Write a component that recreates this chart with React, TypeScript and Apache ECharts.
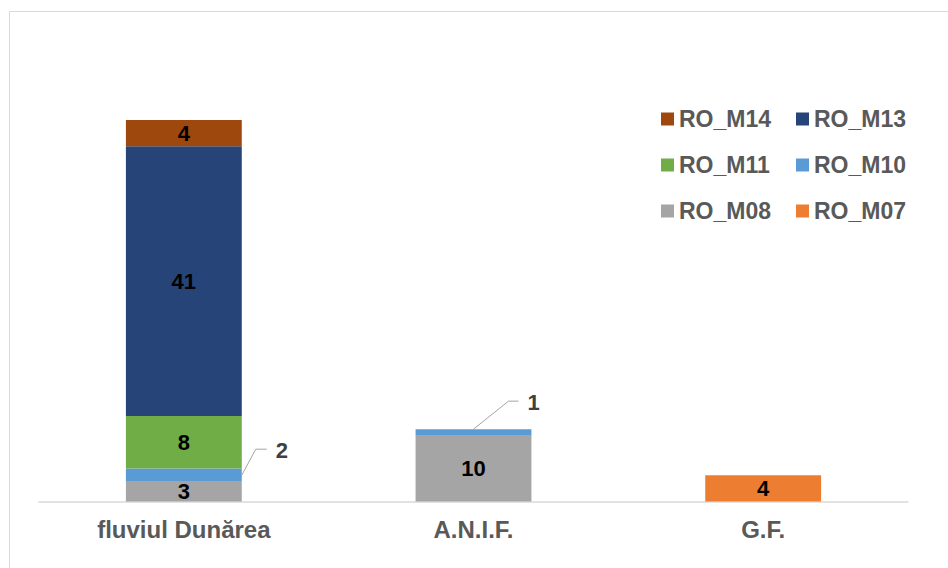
import React, { useEffect, useRef } from "react";
import * as echarts from "echarts";

const categories = ["fluviul Dunărea", "A.N.I.F.", "G.F."];
const RO_M07 = [null, null, 4];
const RO_M08 = [3, 10, null];
const RO_M10 = [2, 1, null];
const RO_M11 = [8, null, null];
const RO_M13 = [41, null, null];
const RO_M14 = [4, null, null];
const legendOrder = ["RO_M14", "RO_M13", "RO_M11", "RO_M10", "RO_M08", "RO_M07"];

const FONT = 'Arial, "Liberation Sans", sans-serif';

export default function App() {
  const ref = useRef<HTMLDivElement>(null);

  useEffect(() => {
    if (!ref.current) return;
    const chart = echarts.init(ref.current, null, { renderer: "svg" });

    const labelStyle = {
      show: true,
      position: "inside",
      color: "#000000",
      fontWeight: "bold",
      fontSize: 22,
      fontFamily: FONT,
      formatter: (p: any) => (p.value == null ? "" : String(p.value)),
    };

    const mk = (name: string, data: any[], color: string, showLabel = true) => ({
      name,
      type: "bar",
      stack: "total",
      barWidth: "40%",
      data,
      itemStyle: { color },
      label: showLabel ? labelStyle : { show: false },
      emphasis: { disabled: true },
    });

    // leader layout for the small RO_M10 segments (positions only)
    const leaderLayout = [
      { anchor: "right", dx: 14, dy: -26, h: 11 },
      { anchor: "top", dx: 35, dy: -28, h: 10 },
    ];

    const leaderData = categories
      .map((_, i) => [i, RO_M08[i] ?? 0, RO_M10[i]])
      .filter((d) => d[2] != null);

    const option: any = {
      animation: false,
      backgroundColor: "#ffffff",
      grid: { left: 39, right: 40, top: 106.8, bottom: 66.5 },
      legend: {
        data: legendOrder,
        left: 661,
        top: 107,
        padding: 0,
        width: 260,
        itemWidth: 13,
        itemHeight: 13,
        itemGap: 22,
        icon: "rect",
        textStyle: {
          color: "#595959",
          fontWeight: "bold",
          fontSize: 23,
          fontFamily: FONT,
          width: 95,
          lineHeight: 24,
        },
        selectedMode: false,
      },
      xAxis: {
        type: "category",
        data: categories,
        axisTick: { show: false },
        axisLine: { lineStyle: { color: "#D9D9D9", width: 1.5 } },
        axisLabel: {
          color: "#595959",
          fontWeight: "bold",
          fontSize: 24,
          fontFamily: FONT,
          margin: 16,
        },
      },
      yAxis: {
        type: "value",
        min: 0,
        max: 60,
        show: false,
        splitLine: { show: false },
      },
      graphic: [
        {
          type: "rect",
          shape: { x: 9.5, y: 11.5, width: 1000, height: 1000 },
          style: { fill: "none", stroke: "#D9D9D9", lineWidth: 1 },
          silent: true,
        },
      ],
      series: [
        mk("RO_M07", RO_M07, "#ED7D31"),
        mk("RO_M08", RO_M08, "#A5A5A5"),
        mk("RO_M10", RO_M10, "#5B9BD5", false),
        mk("RO_M11", RO_M11, "#70AD47"),
        mk("RO_M13", RO_M13, "#264478"),
        mk("RO_M14", RO_M14, "#9E480E"),
        {
          name: "leaders",
          type: "custom",
          coordinateSystem: "cartesian2d",
          data: leaderData,
          z: 10,
          silent: true,
          renderItem: (params: any, api: any) => {
            const idx = api.value(0);
            const base = api.value(1);
            const val = api.value(2);
            const lay = leaderLayout[params.dataIndex];
            const band = api.size([1, 0])[0];
            const bw = band * 0.4;
            let sx: number, sy: number;
            if (lay.anchor === "right") {
              const p = api.coord([idx, base + val / 2]);
              sx = p[0] + bw / 2;
              sy = p[1];
            } else {
              const p = api.coord([idx, base + val]);
              sx = p[0];
              sy = p[1];
            }
            const ex = sx + lay.dx;
            const ey = sy + lay.dy;
            const hx = ex + lay.h;
            return {
              type: "group",
              children: [
                {
                  type: "polyline",
                  shape: { points: [[sx, sy], [ex, ey], [hx, ey]] },
                  style: { stroke: "#A5A5A5", lineWidth: 1, fill: "none" },
                },
                {
                  type: "text",
                  x: hx + 9,
                  y: ey + 1,
                  style: {
                    text: String(val),
                    fill: "#404040",
                    font: `bold 22px ${FONT}`,
                    align: "left",
                    verticalAlign: "middle",
                  },
                },
              ],
            };
          },
        },
      ],
    };

    chart.setOption(option);
    return () => chart.dispose();
  }, []);

  return (
    <div
      ref={ref}
      style={{ position: "fixed", left: 0, top: 0, width: 948, height: 568 }}
    />
  );
}
